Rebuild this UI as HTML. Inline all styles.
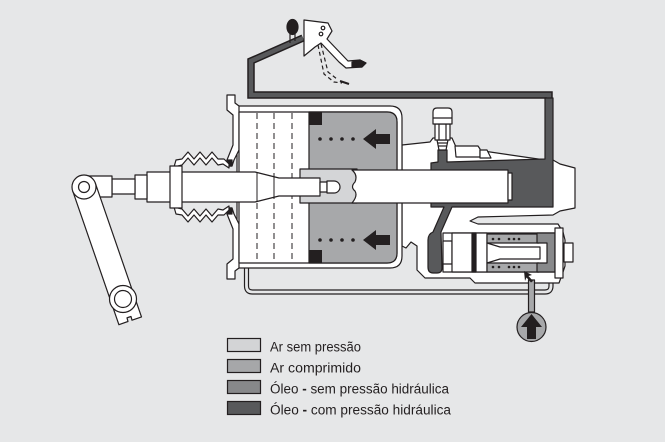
<!DOCTYPE html>
<html><head><meta charset="utf-8"><style>
html,body{margin:0;padding:0;background:#e6e7e8;}
svg{display:block}
text{font-family:"Liberation Sans",sans-serif;}
</style></head><body>
<svg width="665" height="442" viewBox="0 0 665 442" xmlns="http://www.w3.org/2000/svg">
<rect width="665" height="442" fill="#e6e7e8"/>

<!-- hydraulic line -->
<path d="M303,38 L251,61 L251,95 L549,95 L549,172" fill="none" stroke="#231f20" stroke-width="7.5" stroke-linejoin="miter"/>
<path d="M303,38 L251,61 L251,95 L549,95 L549,172" fill="none" stroke="#58595b" stroke-width="4.5" stroke-linejoin="miter"/>

<!-- air tube bottom -->
<path d="M246.5,266 L246.5,286 Q246.5,292 252.5,292 L545,292 Q551,292 551,286 L551,280" fill="none" stroke="#231f20" stroke-width="5.2"/>
<path d="M246.5,266 L246.5,286 Q246.5,292 252.5,292 L545,292 Q551,292 551,286 L551,280" fill="none" stroke="#e6e7e8" stroke-width="2.8"/>

<g stroke="#231f20" stroke-width="1.2" stroke-linejoin="round">
<!-- right body incl. valve housing -->
<path d="M402,145 L430,142 L433,138 L452,138 L456,147 L545,160 L553,160 L560,164 L575,168 L575,208 L560,211 L553,215 L478,217 L470,221 L478,224 L558,224 L563,232 L565,240 L565,266 L563,272 L559,283 L475,283 L470,278 L425,278 L417,270 L417,246 L411,242 L406,248 L402,246 Z" fill="#fff"/>
<!-- chamber housing -->
<path d="M237,106 L390,106 Q402,106 402,118 L402,256 Q402,268 390,268 L237,268 Z" fill="#fff"/>
<!-- left flange -->
<path d="M227,95 L235,95 L235,103 L239,106 L239,150 L234,160 L232,166 L227,166 L227,160 L233,145 L233,115 L227,110 Z" fill="#fff"/>
<path d="M227,279 L235,279 L235,271 L239,268 L239,224 L234,214 L232,208 L227,208 L227,214 L233,229 L233,259 L227,264 Z" fill="#fff"/>
<rect x="227" y="160" width="5" height="6" fill="#231f20"/>
<rect x="227" y="208" width="5" height="6" fill="#231f20"/>

<!-- air chamber -->
<path d="M239,112 L387,112 Q397,112 397,122 L397,253 Q397,263 387,263 L239,263 Z" fill="#fff"/>
<path d="M309,112 L387,112 Q397,112 397,122 L397,253 Q397,263 387,263 L309,263 Z" fill="#a7a8aa"/>
</g>
<g stroke="#231f20" stroke-width="1" stroke-dasharray="6,4">
<line x1="257" y1="113" x2="257" y2="263"/>
<line x1="274" y1="113" x2="274" y2="263"/>
<line x1="292" y1="113" x2="292" y2="263"/>
</g>
<rect x="309" y="112" width="13" height="13" fill="#231f20"/>
<rect x="309" y="250" width="13" height="13" fill="#231f20"/>
<g fill="#231f20">
<circle cx="320" cy="139" r="1.8"/><circle cx="331" cy="139" r="1.8"/><circle cx="342" cy="139" r="1.8"/><circle cx="353" cy="139" r="1.8"/>
<path d="M363,139 L376,129 L376,134 L390,134 L390,144 L376,144 L376,149 Z"/>
<circle cx="320" cy="240" r="1.8"/><circle cx="331" cy="240" r="1.8"/><circle cx="342" cy="240" r="1.8"/><circle cx="353" cy="240" r="1.8"/>
<path d="M363,240 L376,230 L376,235 L390,235 L390,245 L376,245 L376,250 Z"/>
</g>

<g stroke="#231f20" stroke-width="1.2" stroke-linejoin="round">
<!-- dark oil -->
<path d="M431,163 L438,162 L438,150 L447,150 L447,162 L545,159 L545,98 L553,98 L553,207 L452,207 L441,232 L442,268 Q442,273 437,273 L433,273 Q428,273 428,267 L428,240 Q428,234 433,232 L444,207 L431,207 Z" fill="#58595b"/>

<!-- hub -->
<rect x="300" y="169" width="57" height="34" fill="#d4d5d7"/>
<!-- main rod -->
<path d="M352,170 L508,170 L508,203 L352,203 Q358,196 355,191 Q350,187 355,182 Q358,175 352,170 Z" fill="#fff"/>
<rect x="508" y="173" width="4" height="27" fill="#fff"/>
<!-- push rod -->
<path d="M147,172 L255,172 L279,178 L320,178 L320,196 L279,196 L255,202 L147,202 Z" fill="#fff"/>
<line x1="257" y1="173" x2="257" y2="201" stroke-width="1"/>
<line x1="274" y1="177" x2="274" y2="197" stroke-width="1"/>
<rect x="320" y="182" width="7" height="10" fill="#fff"/>
<path d="M327,181 L334,181 A6,6 0 0 1 334,193 L327,193 Z" fill="#fff"/>

<!-- boot -->
<path d="M174,167 L176,160 L182,159 L188,152 L194,159 L200,152 L206,159 L212,152 L218,159 L224,159 L229,164 L229,168 L223,164 L218,165 L212,158 L206,165 L200,158 L194,165 L188,158 L182,165 L178,166 L178,172 Z" fill="#fff"/>
<path d="M174,207 L176,214 L182,215 L188,222 L194,215 L200,222 L206,215 L212,222 L218,215 L224,215 L229,210 L229,206 L223,210 L218,209 L212,216 L206,209 L200,216 L194,209 L188,216 L182,209 L178,208 L178,202 Z" fill="#fff"/>
<rect x="170" y="166" width="12" height="42" fill="#fff"/>
<rect x="135" y="175" width="12" height="24" fill="#fff"/>
<rect x="112" y="179" width="23" height="15" fill="#fff"/>
<rect x="86" y="176" width="26" height="21" fill="#fff"/>

<!-- arm -->
<path d="M72.7,190.9 L95.3,183.1 L141.5,316.9 L132,320.2 L131,316.5 L127,317.8 L128,321.5 L118.9,324.7 Z" fill="#fff"/>
<circle cx="84" cy="187" r="12" fill="#fff"/>
<circle cx="84" cy="187" r="5.5" fill="#fff"/>
<circle cx="123" cy="299" r="13.5" fill="#fff"/>
<circle cx="123" cy="299" r="8.5" fill="#fff"/>

<!-- bleeder screw -->
<path d="M437,140 L448,140 L446,150 L439,150 Z" fill="#fff"/>
<line x1="437.5" y1="143" x2="447.5" y2="143"/>
<line x1="438" y1="146" x2="447" y2="146"/>
<rect x="435" y="124" width="15" height="16" fill="#fff"/>
<line x1="439" y1="124" x2="439" y2="140"/><line x1="446" y1="124" x2="446" y2="140"/>
<path d="M433,124 L433,112 Q433,108 437,108 L448,108 Q452,108 452,112 L452,124 Z" fill="#fff"/>
<line x1="433" y1="118" x2="452" y2="118"/>
<path d="M455,146 L478,146 L480,149 L480,157 L456,157 Z" fill="#fff"/>
<path d="M480,150 L487,150 L491,158 L480,158 Z" fill="#fff"/>

<!-- valve -->
<rect x="443" y="233" width="113" height="39" fill="#fff"/>
<rect x="443" y="241" width="9" height="23" fill="#fff"/>
<rect x="452" y="233" width="35" height="39" fill="#fff"/>
<rect x="472" y="233" width="4" height="39" fill="#231f20"/>
<rect x="487" y="234" width="52" height="9" fill="#a7a8aa"/>
<rect x="487" y="263" width="52" height="9" fill="#a7a8aa"/>
<path d="M487,243 L500,247 L540,247 L540,259 L500,259 L487,263 Z" fill="#fff"/>
<path d="M537,233 L555,233 L555,272 L537,272 L537,263 L547,263 L547,243 L537,243 Z" fill="#88898b"/>
<rect x="555" y="228" width="8" height="50" fill="#fff"/>
<rect x="564" y="243" width="9" height="19" fill="#fff"/>
<!-- pipe & source -->
<rect x="528.5" y="280" width="6" height="32" fill="#a7a8aa"/>
<circle cx="531.5" cy="327" r="14.5" fill="#a7a8aa"/>
</g>
<g fill="#231f20">
<circle cx="493" cy="239" r="1.3"/><circle cx="499" cy="239" r="1.3"/><circle cx="509" cy="239" r="1.3"/><circle cx="514" cy="239" r="1.3"/><circle cx="519" cy="239" r="1.3"/>
<circle cx="493" cy="267" r="1.3"/><circle cx="499" cy="267" r="1.3"/><circle cx="509" cy="267" r="1.3"/><circle cx="514" cy="267" r="1.3"/><circle cx="519" cy="267" r="1.3"/>
<path d="M524,271 L532,275 L528.5,276 L533,281 L531,282.5 L526.5,277.5 L525,281 Z"/>
<path d="M531.5,314 L542,327 L536,327 L536,339 L527,339 L527,327 L521,327 Z"/>
</g>

<!-- pedal -->
<g stroke="#231f20" stroke-width="1.2" stroke-linejoin="round">
<line x1="290" y1="34" x2="290" y2="43"/><line x1="295" y1="34" x2="295" y2="41"/>
<ellipse cx="292.5" cy="27" rx="5.5" ry="7.5" fill="#231f20"/>
<path d="M318,45 L324,74 L334,82 L342,83" fill="none" stroke-dasharray="4,3"/>
<path d="M321,44 L328,72 L337,79" fill="none" stroke-dasharray="4,3"/>
<path d="M304,20 L328,23 L332,31 L327,39 L348,61 L360,60 L366,63 L362,67 L346,68 L339,62 L321,43 L315,47 L304,56 Z" fill="#fff"/>
<circle cx="323" cy="28" r="1.8" fill="#fff"/><circle cx="321" cy="34" r="1.8" fill="#fff"/>
<path d="M352,62 L360,60 L366,63 L362,67 L352,67 Z" fill="#231f20"/>
<path d="M340,81 L349,84" stroke-width="2"/>
</g>

<!-- legend -->
<g stroke="#231f20" stroke-width="1.2">
<rect x="227.5" y="338.5" width="33" height="13" fill="#d3d4d6"/>
<rect x="227.5" y="359.5" width="33" height="13" fill="#a6a7a9"/>
<rect x="227.5" y="380.5" width="33" height="13" fill="#87888a"/>
<rect x="227.5" y="401.5" width="33" height="13" fill="#58595b"/>
</g>
<g fill="#231f20" font-size="13.5">
<text x="270" y="351.5" textLength="91" lengthAdjust="spacingAndGlyphs">Ar sem pressão</text>
<text x="270" y="372.5" textLength="91" lengthAdjust="spacingAndGlyphs">Ar comprimido</text>
<text x="270" y="393.5" textLength="179" lengthAdjust="spacingAndGlyphs">Óleo <tspan font-weight="bold">-</tspan> sem pressão hidráulica</text>
<text x="270" y="414.5" textLength="181" lengthAdjust="spacingAndGlyphs">Óleo <tspan font-weight="bold">-</tspan> com pressão hidráulica</text>
</g>
</svg>
</body></html>
